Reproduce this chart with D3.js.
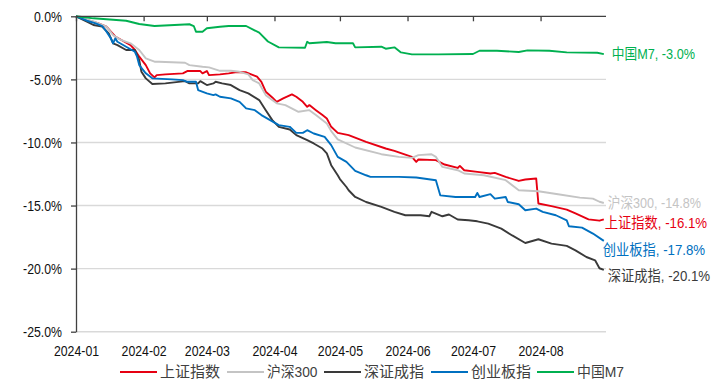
<!DOCTYPE html>
<html><head><meta charset="utf-8">
<script src="https://cdn.jsdelivr.net/npm/d3@7"></script>
<style>html,body{margin:0;padding:0;background:#fff;} svg{display:block}</style>
</head><body>
<svg id="chart" width="728" height="383"></svg>
<script>
// ---------- data ----------
const seriesNames = ["上证指数", "沪深300", "深证成指", "创业板指", "中国M7"];
const monthTicks = ["2024-01","2024-02","2024-03","2024-04","2024-05","2024-06","2024-07","2024-08"];
const yTicks = [0, -5, -10, -15, -20, -25];

const sseComposite = [
 ["2024-01-01",0],["2024-01-06",-0.29],["2024-01-11",-0.55],["2024-01-15",-0.82],["2024-01-17",-1.22],
 ["2024-01-19",-1.6],["2024-01-23",-2.0],["2024-01-26",-2.28],["2024-01-28",-2.67],["2024-01-30",-3.2],
 ["2024-02-02",-3.87],["2024-02-04",-4.52],["2024-02-06",-4.84],["2024-02-07",-4.66],["2024-02-11",-4.6],
 ["2024-02-19",-4.52],["2024-02-21",-4.34],["2024-02-27",-4.34],["2024-02-28",-4.52],["2024-03-01",-4.34],
 ["2024-03-02",-4.66],["2024-03-07",-4.6],["2024-03-11",-4.52],["2024-03-14",-4.44],["2024-03-19",-4.44],
 ["2024-03-24",-4.79],["2024-03-26",-5.19],["2024-03-28",-5.98],["2024-03-31",-6.43],["2024-04-02",-6.78],
 ["2024-04-05",-6.51],["2024-04-09",-6.19],["2024-04-11",-6.38],["2024-04-14",-6.78],["2024-04-16",-7.17],
 ["2024-04-17",-7.04],["2024-04-20",-7.44],["2024-04-23",-7.83],["2024-04-25",-8.1],["2024-04-27",-8.76],
 ["2024-04-30",-9.24],["2024-05-05",-9.42],["2024-05-13",-9.95],["2024-05-22",-10.48],["2024-05-26",-10.67],
 ["2024-06-03",-11.14],["2024-06-05",-11.54],["2024-06-06",-11.35],["2024-06-14",-11.4],["2024-06-18",-11.75],
 ["2024-06-24",-12.02],["2024-06-25",-11.86],["2024-06-27",-12.2],["2024-07-03",-12.33],["2024-07-09",-12.46],
 ["2024-07-11",-12.41],["2024-07-16",-12.73],["2024-07-22",-13.05],["2024-07-25",-12.94],["2024-07-30",-12.86],
 ["2024-07-31",-14.84],["2024-08-06",-15.05],["2024-08-13",-15.32],["2024-08-17",-15.63],["2024-08-23",-16.1],
 ["2024-08-28",-16.2],["2024-08-30",-16.1]
];
const csi300 = [
 ["2024-01-01",0],["2024-01-09",-0.4],["2024-01-15",-0.82],["2024-01-18",-1.49],["2024-01-21",-1.83],
 ["2024-01-24",-2.02],["2024-01-26",-2.14],["2024-01-30",-2.67],["2024-02-02",-3.33],["2024-02-06",-3.6],
 ["2024-02-08",-3.6],["2024-02-20",-3.68],["2024-02-22",-3.87],["2024-02-28",-4.0],["2024-03-02",-4.05],
 ["2024-03-07",-4.32],["2024-03-12",-4.32],["2024-03-16",-4.4],["2024-03-20",-4.6],["2024-03-22",-5.06],
 ["2024-03-25",-5.32],["2024-03-28",-6.25],["2024-04-02",-6.9],["2024-04-06",-7.04],["2024-04-12",-7.57],
 ["2024-04-17",-7.44],["2024-04-20",-7.83],["2024-04-25",-8.49],["2024-04-27",-9.1],["2024-04-30",-9.76],
 ["2024-05-08",-10.4],["2024-05-20",-10.93],["2024-05-28",-11.14],["2024-06-03",-11.22],["2024-06-06",-11.0],
 ["2024-06-12",-10.93],["2024-06-14",-11.14],["2024-06-17",-11.94],["2024-06-24",-12.2],["2024-06-27",-12.46],
 ["2024-07-06",-12.6],["2024-07-16",-12.99],["2024-07-22",-13.79],["2024-07-31",-13.87],["2024-08-09",-14.1],
 ["2024-08-19",-14.37],["2024-08-25",-14.45],["2024-08-28",-14.7],["2024-08-30",-14.8]
];
const szComponent = [
 ["2024-01-01",0],["2024-01-06",-0.42],["2024-01-09",-0.69],["2024-01-13",-0.82],["2024-01-16",-1.35],
 ["2024-01-18",-2.14],["2024-01-20",-2.28],["2024-01-24",-2.67],["2024-01-28",-2.67],["2024-01-30",-3.47],
 ["2024-01-31",-4.4],["2024-02-02",-4.92],["2024-02-05",-5.37],["2024-02-11",-5.32],["2024-02-20",-5.14],
 ["2024-02-22",-5.32],["2024-02-26",-5.32],["2024-02-27",-5.14],["2024-03-01",-5.45],["2024-03-04",-5.32],
 ["2024-03-05",-5.19],["2024-03-08",-5.32],["2024-03-12",-5.45],["2024-03-16",-5.85],["2024-03-20",-6.11],
 ["2024-03-25",-6.64],["2024-03-28",-7.44],["2024-03-31",-8.23],["2024-04-03",-8.76],["2024-04-08",-8.97],
 ["2024-04-11",-9.42],["2024-04-16",-9.82],["2024-04-19",-10.08],["2024-04-23",-10.48],["2024-04-25",-10.87],
 ["2024-04-27",-11.8],["2024-04-30",-12.6],["2024-05-01",-12.9],["2024-05-04",-13.53],["2024-05-05",-13.79],
 ["2024-05-08",-14.32],["2024-05-13",-14.72],["2024-05-20",-15.11],["2024-05-26",-15.5],["2024-05-31",-15.77],
 ["2024-06-07",-15.77],["2024-06-11",-15.85],["2024-06-12",-15.5],["2024-06-17",-15.85],["2024-06-20",-15.71],
 ["2024-06-24",-16.11],["2024-06-29",-16.17],["2024-07-03",-16.25],["2024-07-08",-16.43],["2024-07-14",-16.83],
 ["2024-07-19",-17.37],["2024-07-25",-17.97],["2024-07-31",-17.67],["2024-08-06",-18.02],["2024-08-13",-18.2],
 ["2024-08-17",-18.55],["2024-08-22",-19.08],["2024-08-26",-19.34],["2024-08-28",-19.97],["2024-08-30",-20.1]
];
const chinext = [
 ["2024-01-01",0],["2024-01-06",-0.35],["2024-01-10",-0.56],["2024-01-13",-0.77],["2024-01-15",-1.22],
 ["2024-01-17",-1.75],["2024-01-18",-2.14],["2024-01-19",-1.75],["2024-01-20",-2.02],["2024-01-24",-2.41],
 ["2024-01-28",-2.81],["2024-01-29",-3.2],["2024-01-30",-3.87],["2024-02-02",-4.52],["2024-02-05",-4.92],
 ["2024-02-14",-5.0],["2024-02-19",-5.06],["2024-02-21",-5.19],["2024-02-25",-5.19],["2024-02-26",-5.85],
 ["2024-03-01",-6.11],["2024-03-04",-6.25],["2024-03-05",-6.19],["2024-03-07",-6.38],["2024-03-12",-6.51],
 ["2024-03-16",-6.78],["2024-03-19",-7.3],["2024-03-23",-7.44],["2024-03-26",-7.83],["2024-03-30",-8.23],
 ["2024-04-03",-8.63],["2024-04-08",-8.76],["2024-04-11",-9.24],["2024-04-14",-9.24],["2024-04-16",-9.03],
 ["2024-04-19",-9.29],["2024-04-24",-9.56],["2024-04-27",-10.21],["2024-04-30",-11.14],["2024-05-04",-11.54],
 ["2024-05-08",-12.25],["2024-05-13",-12.6],["2024-05-15",-12.73],["2024-05-23",-12.73],["2024-05-28",-12.73],
 ["2024-06-05",-12.78],["2024-06-14",-13.0],["2024-06-16",-14.19],["2024-06-23",-14.32],["2024-07-02",-14.32],
 ["2024-07-03",-14.0],["2024-07-04",-14.32],["2024-07-09",-14.1],["2024-07-11",-14.45],["2024-07-16",-14.32],
 ["2024-07-17",-14.72],["2024-07-22",-14.9],["2024-07-25",-15.37],["2024-07-30",-15.24],["2024-08-02",-15.5],
 ["2024-08-08",-15.77],["2024-08-13",-16.17],["2024-08-14",-16.64],["2024-08-20",-16.75],["2024-08-25",-17.22],
 ["2024-08-30",-17.8]
];
const chinaM7 = [
 ["2024-01-01",0],["2024-01-09",-0.16],["2024-01-24",-0.35],["2024-01-30",-0.61],["2024-02-06",-0.77],
 ["2024-02-22",-0.63],["2024-02-24",-0.77],["2024-02-25",-1.22],["2024-02-28",-1.22],["2024-03-01",-0.95],
 ["2024-03-07",-0.83],["2024-03-11",-0.77],["2024-03-19",-0.77],["2024-03-25",-1.3],["2024-03-29",-2.0],
 ["2024-04-03",-2.46],["2024-04-15",-2.49],["2024-04-16",-2.02],["2024-04-17",-2.14],["2024-04-25",-2.04],
 ["2024-04-29",-2.14],["2024-05-07",-2.14],["2024-05-08",-2.46],["2024-05-20",-2.41],["2024-05-22",-2.57],
 ["2024-05-26",-2.46],["2024-05-29",-2.86],["2024-06-03",-3.02],["2024-06-15",-3.02],["2024-07-01",-2.99],
 ["2024-07-04",-2.73],["2024-07-12",-2.73],["2024-07-22",-2.83],["2024-07-26",-2.7],["2024-08-05",-2.73],
 ["2024-08-13",-2.86],["2024-08-27",-2.89],["2024-08-30",-3.0]
];

// ---------- styles ----------
const seriesData = [sseComposite, csi300, szComponent, chinext, chinaM7];
const seriesColors = ["#e60012", "#c4c4c4", "#3a3a3a", "#0070c0", "#00b050"];
const labelOffsets = [[1, 3.5], [4, -0.5], [4, 6.5], [-1, 8.7], [8, 0]]; // [dx, dy] from last point
const FONT = "'Liberation Sans Narrow','Arial Narrow','Liberation Sans',Arial,'Noto Sans CJK SC',sans-serif";

const svg = d3.select("#chart");
const parse = d3.timeParse("%Y-%m-%d");
const x = d3.scaleTime().domain([parse("2024-01-01"), parse("2024-08-31")]).range([76, 606]);
const y = d3.scaleLinear().domain([-25, 0]).range([331.7, 16.3]);

// gridlines
svg.append("g").selectAll("line").data(yTicks.filter(d => d !== 0)).join("line")
  .attr("x1", 76).attr("x2", 606).attr("y1", d => y(d)).attr("y2", d => y(d))
  .attr("stroke", "#d9d9d9").attr("stroke-width", 1.4);

// lines
const line = d3.line().x(d => x(parse(d[0]))).y(d => y(d[1]));
svg.append("g").selectAll("path").data(seriesData).join("path")
  .attr("d", line).attr("fill", "none")
  .attr("stroke", (d, i) => seriesColors[i]).attr("stroke-width", 1.9)
  .attr("stroke-linejoin", "round");

// x axis (at 0 line) ticks
const monthDates = monthTicks.map(m => parse(m + "-01"));
const xAxisTop = svg.append("g").attr("transform", `translate(0,${y(0)})`)
  .call(d3.axisBottom(x).tickValues(monthDates).tickSize(5).tickSizeOuter(0).tickFormat(""));
xAxisTop.select(".domain").attr("d", `M76,0H606`);
xAxisTop.selectAll("path,line").attr("stroke", "#404040").attr("stroke-width", 1.3);

// x labels at bottom
const xLab = svg.append("g").attr("transform", `translate(0,356)`)
  .call(d3.axisBottom(x).tickValues(monthDates).tickSize(0).tickPadding(0).tickFormat(d3.timeFormat("%Y-%m")));
xLab.select(".domain").remove();
xLab.selectAll("text").attr("dy", 0).attr("y", 0).attr("font-family", FONT).attr("font-size", 15).attr("fill", "#111");

// y axis
const yAxis = svg.append("g").attr("transform", `translate(76,0)`)
  .call(d3.axisLeft(y).tickValues(yTicks).tickSize(5).tickSizeOuter(0).tickPadding(9)
    .tickFormat(d => d.toFixed(1) + "%"));
yAxis.selectAll("path,line").attr("stroke", "#404040").attr("stroke-width", 1.3);
yAxis.selectAll("text").attr("font-family", FONT).attr("font-size", 15).attr("fill", "#111")
  .attr("dy", "0.34em");
yAxis.attr("font-family", null);

// end labels
svg.append("g").selectAll("text").data(seriesData).join("text")
  .attr("x", (d, i) => x(parse(d[d.length - 1][0])) + labelOffsets[i][0])
  .attr("y", (d, i) => y(d[d.length - 1][1]) + labelOffsets[i][1] + 5)
  .attr("font-family", FONT).attr("font-size", 14.5)
  .attr("fill", (d, i) => seriesColors[i])
  .text((d, i) => `${seriesNames[i]}, ${d[d.length - 1][1].toFixed(1)}%`);

// legend
const legendX = [120, 227, 324, 431, 537];
const lg = svg.append("g").selectAll("g").data(seriesNames).join("g")
  .attr("transform", (d, i) => `translate(${legendX[i]},372)`);
lg.append("line").attr("x1", 0).attr("x2", 37).attr("y1", 0).attr("y2", 0)
  .attr("stroke", (d, i) => seriesColors[i]).attr("stroke-width", 2);
lg.append("text").attr("x", 40).attr("y", 5).attr("font-family", FONT).attr("font-size", 15)
  .attr("fill", "#404040").text(d => d);

// fallback narrowing if a narrow font is not installed
(function () {
  const probe = svg.append("text").attr("font-size", 15).attr("font-family", "'Liberation Sans Narrow',monospace").text("2024-01");
  const w1 = probe.node().getComputedTextLength();
  probe.attr("font-family", "monospace");
  const w2 = probe.node().getComputedTextLength();
  probe.remove();
  if (Math.abs(w1 - w2) > 0.5) return;
  svg.selectAll("text").each(function () {
    const t = d3.select(this);
    const s = t.text();
    const full = this.getComputedTextLength();
    const latin = s.replace(/[\u2E80-\u9FFF\uFF00-\uFFEF]/g, "");
    const tmp = d3.select(this.parentNode).append("text").attr("font-family", FONT)
      .attr("font-size", t.attr("font-size")).text(latin);
    const lw = latin ? tmp.node().getComputedTextLength() : 0;
    tmp.remove();
    t.attr("textLength", full - 0.18 * lw).attr("lengthAdjust", "spacingAndGlyphs");
  });
})();
</script>
</body></html>
